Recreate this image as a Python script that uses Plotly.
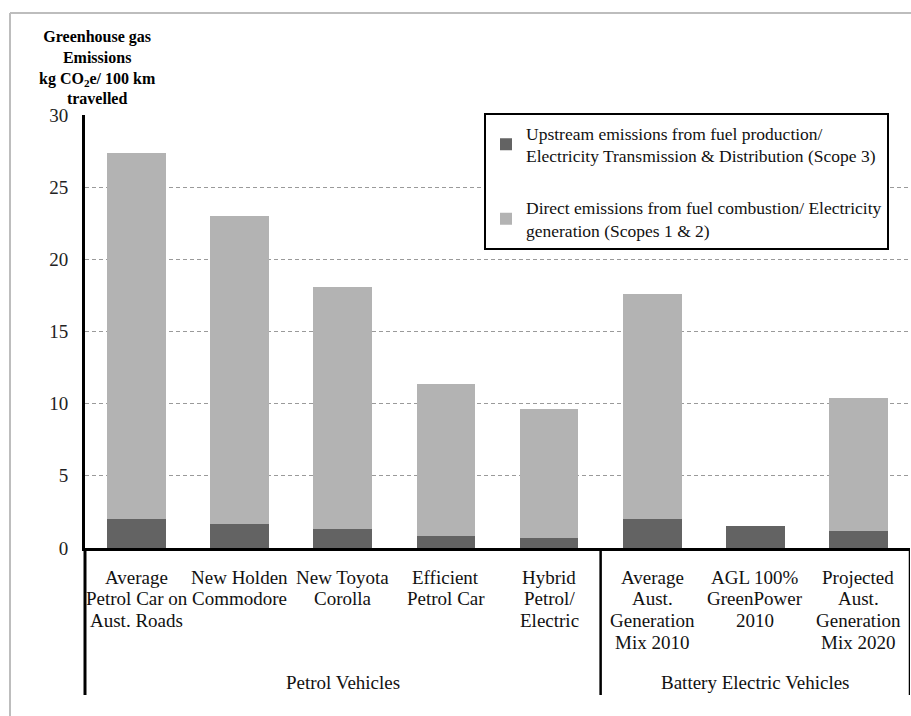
import plotly.graph_objects as go

# ---- data ----
cat_lines = [
    ["Average", "Petrol Car on", "Aust. Roads"],
    ["New Holden", "Commodore"],
    ["New Toyota", "Corolla"],
    ["Efficient", "Petrol Car"],
    ["Hybrid", "Petrol/", "Electric"],
    ["Average", "Aust.", "Generation", "Mix 2010"],
    ["AGL 100%", "GreenPower", "2010"],
    ["Projected", "Aust.", "Generation", "Mix 2020"],
]
groups = ["Petrol Vehicles", "Battery Electric Vehicles"]
group_sizes = [5, 3]
upstream = [2.0, 1.66, 1.3, 0.85, 0.72, 2.0, 1.52, 1.18]
direct = [25.4, 21.35, 16.8, 10.5, 8.88, 15.6, 0.0, 9.19]
series_names = [
    "Upstream emissions from fuel production/<br>Electricity Transmission &amp; Distribution (Scope 3)",
    "Direct emissions from fuel combustion/ Electricity<br>generation (Scopes 1 &amp; 2)",
]
y_title = "<b>Greenhouse gas<br>Emissions<br>kg CO<sub>2</sub>e/ 100 km<br>travelled</b>"
y_ticks = [0, 5, 10, 15, 20, 25, 30]

FONT = "Liberation Serif"
x = list(range(len(cat_lines)))

fig = go.Figure()
fig.add_trace(go.Bar(x=x, y=upstream, name=series_names[0], marker_color="#636363",
                     marker_line_width=0, legendgroup="a"))
fig.add_trace(go.Bar(x=x, y=direct, name=series_names[1], marker_color="#b3b3b3",
                     marker_line_width=0, legendgroup="b"))

W, H = 911, 716
L, R, T, B = 85, 1, 115, 168
ph = H - T - B
pw = W - L - R

def py(pix):
    return (H - B - pix) / ph

def px(pix):
    return (pix - L) / pw

annotations = []
# category labels line by line
for i, lines in enumerate(cat_lines):
    for j, line in enumerate(lines):
        annotations.append(dict(
            x=i, xref="x", y=0, yref="paper", yanchor="middle", xanchor="center",
            yshift=-(29 + 21.7 * j), text=line, showarrow=False,
            font=dict(family=FONT, size=19, color="#111")))
# group labels
start = 0
seps = []
for g, n in zip(groups, group_sizes):
    annotations.append(dict(
        x=start + (n - 1) / 2, xref="x", y=0, yref="paper", yanchor="middle",
        xanchor="center", yshift=-134, text=g, showarrow=False,
        font=dict(family=FONT, size=19, color="#111")))
    start += n
    seps.append(start - 0.5)
# y title
annotations.append(dict(
    x=px(97), xref="paper", y=1, yref="paper", yanchor="bottom", xanchor="center",
    yshift=6, text=y_title, showarrow=False,
    font=dict(family=FONT, size=16, color="black")))

shapes = []
# y-axis extension downward
shapes.append(dict(type="line", xref="paper", yref="paper", x0=0, x1=0,
                   y0=0, y1=py(695), line=dict(color="black", width=3)))
for s in seps:
    shapes.append(dict(type="line", xref="x", yref="paper", x0=s, x1=s,
                       y0=0, y1=py(695), line=dict(color="black", width=2.5)))
# outer gray frame
shapes.append(dict(type="line", xref="paper", yref="paper", x0=px(10), x1=px(915),
                   y0=py(13), y1=py(13), line=dict(color="#bdbdbd", width=2)))
shapes.append(dict(type="line", xref="paper", yref="paper", x0=px(10), x1=px(10),
                   y0=py(13), y1=py(720), line=dict(color="#bdbdbd", width=2)))

fig.update_layout(
    width=W, height=H,
    margin=dict(l=L, r=R, t=T, b=B, pad=0),
    barmode="stack", bargap=0.43,
    plot_bgcolor="white", paper_bgcolor="white",
    font=dict(family=FONT, color="black"),
    showlegend=True,
    legend=dict(x=px(484), y=py(113), xanchor="left", yanchor="top",
                bordercolor="black", borderwidth=2, bgcolor="white",
                font=dict(family=FONT, size=17.5, color="#111"),
                traceorder="grouped", tracegroupgap=26, itemwidth=30),
    xaxis=dict(range=[-0.5, len(x) - 0.5], showticklabels=False, showgrid=False,
               zeroline=False, showline=True, linecolor="black", linewidth=3,
               ticks=""),
    yaxis=dict(range=[0, 30], tickvals=y_ticks, showgrid=True, gridcolor="#9a9a9a",
               gridwidth=1, griddash="4px,3px", zeroline=False, showline=True,
               linecolor="black", linewidth=3, ticks="", ticklabelstandoff=10,
               tickfont=dict(family=FONT, size=19, color="#222")),
    annotations=annotations,
    shapes=shapes,
)

fig.write_html("out.html", config={"displayModeBar": False},
               post_script="document.body.style.margin='0';document.body.style.overflow='hidden';")
